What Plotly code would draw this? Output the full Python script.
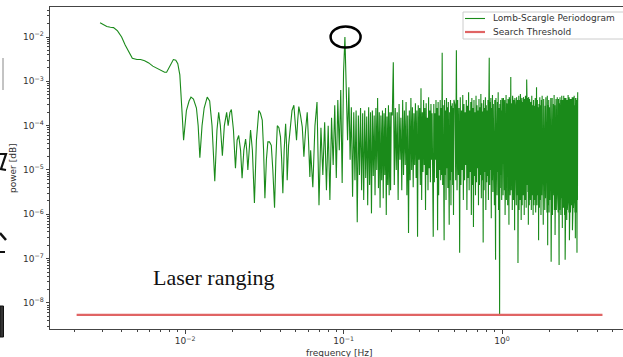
import plotly.graph_objects as go

# ---------------- data ----------------
# smooth low-frequency part of the Lomb-Scargle periodogram
freq_low = [
    0.00291, 0.00307, 0.00321, 0.00338, 0.00354, 0.00375, 0.00398, 0.00419, 0.00441, 0.00465,
    0.00497, 0.00524, 0.00556, 0.00590, 0.00626, 0.00664, 0.00704, 0.00743, 0.00765, 0.00800,
    0.00844, 0.00874, 0.00900, 0.00927, 0.00948, 0.00962, 0.00979, 0.0100, 0.0102, 0.0106,
    0.0109, 0.0113, 0.0118, 0.0121, 0.0124, 0.0128, 0.0132, 0.0138, 0.0143, 0.0148,
    0.0154, 0.0159, 0.0163, 0.0167, 0.0172, 0.0177, 0.0183, 0.0187, 0.0192, 0.0196,
    0.0202, 0.0208, 0.0213, 0.0218, 0.0224, 0.0229, 0.0235, 0.0241, 0.0245, 0.0249,
    0.0254, 0.0259, 0.0266, 0.0274, 0.0282, 0.0292, 0.0299, 0.0307, 0.0313, 0.0319,
    0.0326, 0.0333, 0.0341, 0.0350, 0.0358, 0.0367, 0.0374, 0.0382, 0.0391, 0.0400,
    0.0407, 0.0414, 0.0422, 0.0431, 0.0437, 0.0441, 0.0450, 0.0463, 0.0473, 0.0486,
    0.0496, 0.0505, 0.0514, 0.0522, 0.0535, 0.0549, 0.0555, 0.0562, 0.0576, 0.0590,
    0.0601, 0.0613,
]
power_low = [
    0.021, 0.019, 0.0173, 0.0166, 0.0163, 0.0137, 0.0100, 0.0066, 0.0046, 0.0033,
    0.0031, 0.0031, 0.0029, 0.0026, 0.0022, 0.0020, 0.0018, 0.0016, 0.0016, 0.0022,
    0.0031, 0.0030, 0.0025, 0.0014, 4.9e-4, 1.5e-4, 4.7e-5, 1.0e-4, 2.2e-4, 3.6e-4,
    4.4e-4, 4.0e-4, 2.5e-4, 1.0e-4, 1.9e-5, 1.0e-4, 2.5e-4, 4.4e-4, 3.6e-4, 1.0e-4,
    5.6e-6, 8e-5, 2.0e-4, 1.0e-4, 2.1e-5, 1.0e-4, 2.0e-4, 1.0e-4, 2.0e-4, 2.3e-4,
    8e-5, 1.1e-5, 4.7e-5, 6e-5, 2.8e-5, 6.5e-6, 2.8e-5, 5e-5, 2.8e-5, 1.0e-5,
    3.6e-5, 8e-5, 2.8e-5, 1.8e-6, 4.7e-5, 2.2e-4, 1.9e-4, 1.34e-4, 2.8e-5, 2.3e-6,
    1.7e-5, 4.3e-5, 4.3e-5, 3.6e-5, 1.0e-5, 1.4e-6, 1.7e-5, 1.0e-4, 9e-5, 5.6e-5,
    1.7e-5, 3.0e-6, 2.8e-5, 1.1e-4, 3.6e-5, 5.9e-6, 3.6e-5, 1.34e-4, 2.2e-4, 2.9e-4,
    1.34e-4, 4.7e-5, 1.34e-4, 2.7e-4, 1.7e-4, 9.4e-5, 4.7e-5, 2.0e-5, 8e-5, 2.0e-4,
    4.7e-5, 7.0e-6,
]

# 0.062 - 0.200 Hz (includes the 0.1 Hz peak)
freq_peak_band = [
    0.062, 0.064, 0.066, 0.068, 0.070, 0.072, 0.074, 0.076, 0.078, 0.080,
    0.082, 0.084, 0.086, 0.088, 0.090, 0.092, 0.094, 0.096, 0.098, 0.100,
    0.102, 0.104, 0.106, 0.108, 0.110, 0.112, 0.114, 0.116, 0.118, 0.120,
    0.122, 0.124, 0.126, 0.128, 0.130, 0.132, 0.134, 0.136, 0.138, 0.140,
    0.142, 0.144, 0.146, 0.148, 0.150, 0.152, 0.154, 0.156, 0.158, 0.160,
    0.162, 0.164, 0.166, 0.168, 0.170, 0.172, 0.174, 0.176, 0.178, 0.180,
    0.182, 0.184, 0.186, 0.188, 0.190, 0.192, 0.194, 0.196, 0.198, 0.200,
]
power_peak_band = [
    2.8e-5, 4.1e-6, 1.0e-4, 3.4e-4, 1.6e-6, 9e-5, 7.7e-6, 1.2e-4, 3.5e-6, 1.0e-4,
    2.1e-6, 1.5e-4, 1.3e-5, 2.9e-4, 6.6e-6, 3.8e-4, 2.8e-5, 6.4e-4, 5.1e-6, 1.6e-3,
    1.0e-2, 8.2e-4, 4.7e-5, 7.4e-4, 1.7e-5, 2.6e-4, 2.5e-6, 2.0e-4, 5.9e-6, 2.2e-4,
    6.6e-7, 1.7e-4, 7.7e-6, 2.5e-4, 3.5e-6, 1.9e-4, 2.1e-6, 2.2e-4, 6.6e-6, 1.6e-4,
    1.6e-6, 2.6e-4, 4.6e-6, 2.0e-4, 1.05e-6, 2.2e-4, 7.3e-6, 1.7e-4, 2.7e-6, 2.5e-4,
    1.0e-5, 4.2e-4, 3.9e-6, 2.0e-4, 1.4e-6, 1.7e-4, 5.9e-6, 2.2e-4, 2.3e-6, 1.9e-4,
    7.7e-6, 2.5e-4, 9.6e-7, 1.6e-4, 4.6e-6, 2.9e-4, 2.7e-6, 2.0e-4, 3.5e-6, 2.0e-4,
]

# 0.203 - 0.500 Hz
freq_mid_band = [
    0.203, 0.206, 0.209, 0.212, 0.215, 0.218, 0.221, 0.224, 0.227, 0.230,
    0.233, 0.236, 0.239, 0.242, 0.245, 0.248, 0.251, 0.254, 0.257, 0.260,
    0.263, 0.266, 0.269, 0.272, 0.275, 0.278, 0.281, 0.284, 0.287, 0.290,
    0.293, 0.296, 0.299, 0.302, 0.305, 0.308, 0.311, 0.314, 0.317, 0.320,
    0.323, 0.326, 0.329, 0.332, 0.335, 0.338, 0.341, 0.344, 0.347, 0.350,
    0.353, 0.356, 0.359, 0.362, 0.365, 0.368, 0.371, 0.374, 0.377, 0.380,
    0.383, 0.386, 0.389, 0.392, 0.395, 0.398, 0.401, 0.404, 0.407, 0.410,
    0.413, 0.416, 0.419, 0.422, 0.425, 0.428, 0.431, 0.434, 0.437, 0.440,
    0.443, 0.446, 0.449, 0.452, 0.455, 0.458, 0.461, 0.464, 0.467, 0.470,
    0.473, 0.476, 0.479, 0.482, 0.485, 0.488, 0.491, 0.494, 0.497, 0.500,
]
power_mid_band = [
    1.7e-4, 2.7e-3, 4.6e-6, 2.5e-4, 1.0e-5, 2.0e-4, 2.1e-6, 3.1e-4, 1.7e-5, 1.5e-4,
    3.5e-6, 3.8e-4, 7.7e-6, 2.2e-4, 1.3e-5, 3.4e-4, 2.7e-6, 1.7e-4, 3.8e-7, 2.2e-4,
    5.9e-6, 4.2e-4, 1.0e-5, 2.6e-4, 4.1e-6, 1.9e-4, 1.3e-5, 3.2e-4, 6.6e-6, 2.2e-4,
    3.1e-7, 2.9e-4, 1.7e-5, 2.5e-4, 4.6e-6, 7.0e-4, 2.1e-6, 2.0e-4, 9e-6, 3.8e-4,
    1.3e-5, 2.5e-4, 1.25e-6, 3.2e-4, 7.7e-6, 1.5e-4, 3.5e-6, 4.4e-4, 1.1e-5, 2.2e-4,
    5.3e-6, 3.1e-4, 1.7e-5, 1.9e-4, 2.7e-6, 3.1e-7, 3.1e-4, 5.3e-6, 1.9e-4, 1.7e-5,
    3.8e-4, 6.6e-6, 2.5e-4, 4.4e-7, 3.4e-4, 2.7e-6, 1.7e-4, 1.0e-5, 3.8e-4, 5.9e-6,
    2.5e-4, 7.7e-6, 4.4e-3, 4.6e-6, 2.9e-4, 1.1e-5, 2.6e-7, 3.8e-4, 7.7e-6, 2.2e-4,
    2.1e-6, 4.2e-4, 1.1e-5, 2.6e-4, 3.9e-6, 3.4e-4, 9e-6, 5.8e-7, 2.0e-4, 5.9e-6,
    3.8e-4, 1.6e-6, 2.8e-4, 9e-6, 3.2e-4, 4.6e-6, 2.5e-4, 9.6e-7, 3.8e-4, 3.2e-4,
]

# 0.505 - 1.000 Hz
freq_high_band = [
    0.505, 0.510, 0.515, 0.520, 0.525, 0.530, 0.535, 0.540, 0.545, 0.550,
    0.555, 0.560, 0.565, 0.570, 0.575, 0.580, 0.585, 0.590, 0.595, 0.600,
    0.605, 0.610, 0.615, 0.620, 0.625, 0.630, 0.635, 0.640, 0.645, 0.650,
    0.655, 0.660, 0.665, 0.670, 0.675, 0.680, 0.685, 0.690, 0.695, 0.700,
    0.705, 0.710, 0.715, 0.720, 0.725, 0.730, 0.735, 0.740, 0.745, 0.750,
    0.755, 0.760, 0.765, 0.770, 0.775, 0.780, 0.785, 0.790, 0.795, 0.800,
    0.805, 0.810, 0.815, 0.820, 0.825, 0.830, 0.835, 0.840, 0.845, 0.850,
    0.855, 0.860, 0.865, 0.870, 0.875, 0.880, 0.885, 0.890, 0.895, 0.900,
    0.905, 0.910, 0.915, 0.920, 0.925, 0.930, 0.935, 0.940, 0.945, 0.950,
    0.955, 0.960, 0.965, 0.970, 0.975, 0.980, 0.985, 0.990, 0.995, 1.000,
]
power_high_band = [
    2.9e-4, 5.9e-6, 5e-3, 3.5e-6, 3.8e-4, 7.7e-6, 2.5e-4, 1.35e-7, 4.4e-4, 4.6e-6,
    2.2e-4, 1.0e-5, 4.9e-4, 2.1e-6, 3.1e-4, 5.9e-6, 2.0e-4, 1.3e-5, 3.8e-4, 1.25e-6,
    2.8e-4, 6.6e-6, 5.7e-4, 3.5e-6, 2.2e-4, 9e-6, 3.4e-4, 9.6e-7, 4.2e-4, 4.6e-6,
    2.5e-4, 5.2e-7, 3.8e-4, 7.3e-6, 2.0e-4, 2.7e-6, 4.7e-4, 5.3e-6, 2.9e-4, 1.1e-5,
    2.2e-4, 1.6e-6, 4.0e-4, 4.6e-6, 2.6e-4, 7.7e-6, 5.2e-4, 2.3e-6, 3.2e-4, 5.9e-6,
    2.1e-4, 2.3e-7, 3.8e-4, 3.5e-6, 2.5e-4, 9e-6, 4.4e-4, 1.25e-6, 2.9e-4, 5.3e-6,
    2.2e-4, 7.3e-6, 3.8e-4, 2.1e-6, 2.8e-4, 3.4e-3, 4.6e-6, 3.4e-4, 1.0e-5, 4.2e-4,
    8.2e-7, 2.5e-4, 5.9e-6, 4.9e-4, 3.2e-6, 3.1e-4, 7.3e-6, 2.2e-4, 1.6e-6, 3.8e-4,
    5.1e-6, 9.4e-8, 4.2e-4, 6.6e-6, 2.8e-4, 2.7e-6, 3.4e-4, 9e-6, 5.7e-4, 1.25e-6,
    2.5e-4, 5.9e-6, 5.5e-9, 3.1e-4, 3.9e-6, 3.8e-4, 7.7e-6, 2.2e-4, 2.1e-6, 4.2e-4,
]

# 1.005 - 1.500 Hz
freq_top_band = [
    1.005, 1.010, 1.015, 1.020, 1.025, 1.030, 1.035, 1.040, 1.045, 1.050,
    1.055, 1.060, 1.065, 1.070, 1.075, 1.080, 1.085, 1.090, 1.095, 1.100,
    1.105, 1.110, 1.115, 1.120, 1.125, 1.130, 1.135, 1.140, 1.145, 1.150,
    1.155, 1.160, 1.165, 1.170, 1.175, 1.180, 1.185, 1.190, 1.195, 1.200,
    1.205, 1.210, 1.215, 1.220, 1.225, 1.230, 1.235, 1.240, 1.245, 1.250,
    1.255, 1.260, 1.265, 1.270, 1.275, 1.280, 1.285, 1.290, 1.295, 1.300,
    1.305, 1.310, 1.315, 1.320, 1.325, 1.330, 1.335, 1.340, 1.345, 1.350,
    1.355, 1.360, 1.365, 1.370, 1.375, 1.380, 1.385, 1.390, 1.395, 1.400,
    1.405, 1.410, 1.415, 1.420, 1.425, 1.430, 1.435, 1.440, 1.445, 1.450,
    1.455, 1.460, 1.465, 1.470, 1.475, 1.480, 1.485, 1.490, 1.495, 1.500,
]
power_top_band = [
    5.9e-6, 3.1e-4, 2.7e-6, 4.2e-4, 7.3e-6, 2.2e-4, 3.5e-6, 3.8e-4, 9.6e-7, 2.8e-4,
    4.6e-6, 4.9e-4, 2.1e-6, 3.2e-4, 6.6e-6, 2.5e-4, 1.6e-6, 4.0e-4, 4.1e-6, 2.9e-4,
    5.8e-7, 4.4e-4, 5.3e-6, 3.4e-4, 2.7e-6, 2.2e-4, 1.25e-3, 3.5e-6, 3.2e-4, 6.6e-6,
    2.5e-4, 1.25e-6, 4.7e-4, 4.6e-6, 3.1e-4, 2.1e-6, 3.8e-4, 5.9e-6, 2.6e-4, 4.4e-7,
    4.2e-4, 3.2e-6, 2.9e-4, 7.7e-6, 3.4e-4, 1.6e-6, 4.4e-4, 5.3e-6, 2.2e-4, 2.7e-6,
    3.8e-4, 8e-8, 3.1e-4, 3.9e-6, 4.7e-4, 1.25e-6, 2.6e-4, 5.9e-6, 3.8e-4, 2.1e-6,
    5.2e-4, 4.6e-6, 3.2e-4, 7.4e-7, 2.9e-4, 3.5e-6, 4.2e-4, 1.6e-6, 3.4e-4, 5.3e-6,
    2.5e-4, 2.7e-6, 4.4e-4, 6.6e-6, 3.1e-4, 9.6e-7, 4.0e-4, 3.9e-6, 2.8e-4, 2.1e-6,
    4.7e-4, 5.9e-6, 3.2e-4, 1.4e-6, 3.8e-4, 1.1e-3, 2.7e-6, 2.6e-4, 4.6e-6, 4.2e-4,
    3.2e-6, 2.9e-4, 5.8e-7, 4.4e-4, 5.3e-6, 3.4e-4, 1.6e-6, 4.0e-4, 3.5e-6, 2.8e-4,
]

# 1.51 - 3.00 Hz
freq_end_band = [
    1.51, 1.52, 1.53, 1.54, 1.55, 1.56, 1.57, 1.58, 1.59, 1.60,
    1.61, 1.62, 1.63, 1.64, 1.65, 1.66, 1.67, 1.68, 1.69, 1.70,
    1.71, 1.72, 1.73, 1.74, 1.75, 1.76, 1.77, 1.78, 1.79, 1.80,
    1.81, 1.82, 1.83, 1.84, 1.85, 1.86, 1.87, 1.88, 1.89, 1.90,
    1.91, 1.92, 1.93, 1.94, 1.95, 1.96, 1.97, 1.98, 1.99, 2.00,
    2.01, 2.02, 2.03, 2.04, 2.05, 2.06, 2.07, 2.08, 2.09, 2.10,
    2.11, 2.12, 2.13, 2.14, 2.15, 2.16, 2.17, 2.18, 2.19, 2.20,
    2.21, 2.22, 2.23, 2.24, 2.25, 2.26, 2.27, 2.28, 2.29, 2.30,
    2.31, 2.32, 2.33, 2.34, 2.35, 2.36, 2.37, 2.38, 2.39, 2.40,
    2.41, 2.42, 2.43, 2.44, 2.45, 2.46, 2.47, 2.48, 2.49, 2.50,
    2.51, 2.52, 2.53, 2.54, 2.55, 2.56, 2.57, 2.58, 2.59, 2.60,
    2.61, 2.62, 2.63, 2.64, 2.65, 2.66, 2.67, 2.68, 2.69, 2.70,
    2.71, 2.72, 2.73, 2.74, 2.75, 2.76, 2.77, 2.78, 2.79, 2.80,
    2.81, 2.82, 2.83, 2.84, 2.85, 2.86, 2.87, 2.88, 2.89, 2.90,
    2.91, 2.92, 2.93, 2.94, 2.95, 2.96, 2.97, 2.98, 2.99, 3.00,
]
power_end_band = [
    2.1e-6, 3.4e-4, 1.25e-6, 4.7e-4, 2.7e-6, 2.9e-4, 9.6e-7, 3.8e-4, 1.6e-6, 2.8e-4,
    2.1e-6, 4.2e-4, 1.1e-6, 3.2e-4, 7.4e-4, 1.6e-6, 3.8e-4, 2.7e-6, 2.6e-4, 2.6e-7,
    3.1e-4, 1.4e-6, 4.4e-4, 2.1e-6, 2.9e-4, 9.6e-7, 3.8e-4, 2.7e-6, 4.7e-4, 1.25e-6,
    2.5e-4, 5.8e-7, 4.0e-4, 1.6e-6, 3.2e-4, 1.25e-6, 2.8e-4, 2.3e-6, 4.4e-4, 3.5e-6,
    3.4e-4, 1.1e-6, 4.7e-4, 2.0e-7, 2.9e-4, 1.6e-6, 3.8e-4, 1.1e-6, 2.6e-4, 2.1e-6,
    3.8e-4, 2.3e-6, 4.2e-4, 8.5e-8, 3.1e-4, 1.4e-6, 4.2e-4, 9.6e-7, 2.8e-4, 1.6e-6,
    3.1e-4, 2.7e-6, 4.9e-4, 1.25e-6, 2.9e-4, 3.4e-7, 3.4e-4, 1.6e-6, 4.0e-4, 1.25e-6,
    2.6e-4, 2.1e-6, 4.4e-4, 2.7e-6, 3.2e-4, 1.1e-6, 4.0e-4, 1.6e-6, 7.2e-8, 3.2e-4,
    1.25e-6, 4.4e-4, 2.1e-6, 2.9e-4, 9.6e-7, 3.8e-4, 2.3e-6, 4.7e-4, 1.4e-6, 4.9e-7,
    3.8e-4, 1.6e-6, 2.8e-4, 1.4e-6, 4.7e-4, 2.1e-6, 3.4e-4, 9.6e-7, 4.2e-4, 9.4e-8,
    3.1e-4, 1.6e-6, 4.2e-4, 2.7e-6, 2.9e-4, 7.4e-7, 3.8e-4, 1.25e-6, 2.8e-4, 2.1e-6,
    4.9e-4, 2.3e-6, 3.2e-4, 1.1e-6, 4.4e-4, 2.6e-7, 3.4e-4, 1.6e-6, 4.0e-4, 1.1e-6,
    2.9e-4, 2.7e-6, 4.0e-4, 1.6e-6, 2.6e-4, 2.1e-6, 4.4e-4, 4.4e-7, 3.8e-4, 1.25e-6,
    4.4e-4, 1.4e-6, 3.2e-4, 2.3e-6, 4.7e-4, 2.7e-6, 3.8e-4, 1.1e-6, 2.9e-4, 2.9e-7,
    4.2e-4, 1.1e-6, 2.9e-4, 1.6e-6, 3.8e-4, 1.25e-6, 1.35e-7, 4.2e-4, 2.1e-6, 5.7e-4,
]

threshold_freq = [0.00207, 4.3]
threshold_power = [5.4e-9, 5.4e-9]

peak_freq = 0.102
peak_power = 1.0e-2

x_tick_vals = [1e-2, 1e-1, 1e0]
x_tick_text = ["10<sup>−2</sup>", "10<sup>−1</sup>", "10<sup>0</sup>"]
y_tick_vals = [1e-8, 1e-7, 1e-6, 1e-5, 1e-4, 1e-3, 1e-2]
y_tick_text = ["10<sup>−8</sup>", "10<sup>−7</sup>", "10<sup>−6</sup>", "10<sup>−5</sup>",
               "10<sup>−4</sup>", "10<sup>−3</sup>", "10<sup>−2</sup>"]

legend_names = ["Lomb-Scargle Periodogram", "Search Threshold"]

# ---------------- assemble ----------------
segments = [
    (freq_low, power_low), (freq_peak_band, power_peak_band), (freq_mid_band, power_mid_band),
    (freq_high_band, power_high_band), (freq_top_band, power_top_band), (freq_end_band, power_end_band),
]
freq_hz, power = [], []
for f_seg, p_seg in segments:
    assert len(f_seg) == len(p_seg), (len(f_seg), len(p_seg))
    freq_hz += f_seg
    power += p_seg

minor_x = [k * 10.0 ** e for e in range(-3, 1) for k in range(2, 10)]
minor_y = [k * 10.0 ** e for e in range(-9, -1) for k in range(2, 10)]

FONT = "DejaVu Sans"
AX = "#444444"
TXT = "#333333"
GREEN = "#1a8a1a"
RED = "#e06464"

fig = go.Figure()
fig.add_trace(go.Scatter(
    x=freq_hz, y=power, mode="lines", name=legend_names[0],
    line=dict(color=GREEN, width=1.1),
))
fig.add_trace(go.Scatter(
    x=threshold_freq, y=threshold_power, mode="lines", name=legend_names[1],
    line=dict(color=RED, width=2.2),
))

W, H = 623, 357
ML, MR, MT, MB = 50, 0, 7, 28
PW, PH = W - ML - MR, H - MT - MB
X_DEC_PX = 158.5   # pixels per decade on x
Y_DEC_PX = 44.3    # pixels per decade on y


def px(x):
    return (x - ML) / PW


def py(y):
    return (H - MB - y) / PH


axis_common = dict(
    type="log", showline=True, linecolor=AX, linewidth=1, ticks="outside", ticklen=3.5,
    tickcolor=AX, tickwidth=1, showgrid=False, zeroline=False,
    tickfont=dict(family=FONT, size=9, color=TXT),
)

# hand-drawn circle around the 0.1 Hz peak (about 30 x 21 px)
cx_f = 10 ** (15 / X_DEC_PX)
cy_f = 10 ** (10.5 / Y_DEC_PX)

shapes = [
    dict(type="circle", xref="x", yref="y",
         x0=peak_freq / cx_f * 1.01, x1=peak_freq * cx_f * 1.01,
         y0=peak_power / cy_f, y1=peak_power * cy_f,
         line=dict(color="black", width=2.5)),
    # legend box (matplotlib style)
    dict(type="rect", xref="paper", yref="paper", x0=px(463), x1=px(640), y0=py(39), y1=py(12),
         fillcolor="white", line=dict(color="#cccccc", width=1)),
    dict(type="line", xref="paper", yref="paper", x0=px(465), x1=px(485), y0=py(18.5), y1=py(18.5),
         line=dict(color=GREEN, width=1.1)),
    dict(type="line", xref="paper", yref="paper", x0=px(465), x1=px(485), y0=py(32), y1=py(32),
         line=dict(color=RED, width=2.2)),
    # screenshot edge artefacts on the left margin
    dict(type="line", xref="paper", yref="paper", x0=px(3), x1=px(3), y0=py(58), y1=py(90),
         line=dict(color="#888888", width=1)),
    dict(type="path", xref="paper", yref="paper",
         path=f"M {px(0)},{py(154)} L {px(6)},{py(154)} L {px(1)},{py(169)} L {px(6)},{py(170)}",
         line=dict(color="#111111", width=2.2)),
    dict(type="line", xref="paper", yref="paper", x0=px(0), x1=px(6), y0=py(233), y1=py(240),
         line=dict(color="#111111", width=2.5)),
    dict(type="line", xref="paper", yref="paper", x0=px(0), x1=px(5), y0=py(252), y1=py(252),
         line=dict(color="#111111", width=2)),
    dict(type="rect", xref="paper", yref="paper", x0=px(0), x1=px(3.5), y0=py(337), y1=py(306),
         fillcolor="#333333", line=dict(color="#111111", width=1)),
]

annotations = [
    dict(text="frequency [Hz]", xref="paper", yref="paper", x=px(339), y=py(353),
         xanchor="center", yanchor="middle", showarrow=False,
         font=dict(family=FONT, size=9, color=TXT)),
    dict(text="power [dB]", xref="paper", yref="paper", x=px(13), y=py(168),
         xanchor="center", yanchor="middle", showarrow=False, textangle=-90,
         font=dict(family=FONT, size=9, color=TXT)),
    dict(text="Laser ranging", xref="paper", yref="paper", x=px(151), y=py(277),
         xanchor="left", yanchor="middle", showarrow=False,
         font=dict(family="Liberation Serif", size=22, color="#111111")),
    dict(text=legend_names[0], xref="paper", yref="paper", x=px(491), y=py(18.5),
         xanchor="left", yanchor="middle", showarrow=False,
         font=dict(family=FONT, size=9, color=TXT)),
    dict(text=legend_names[1], xref="paper", yref="paper", x=px(491), y=py(32),
         xanchor="left", yanchor="middle", showarrow=False,
         font=dict(family=FONT, size=9, color=TXT)),
]

fig.update_layout(
    width=W, height=H,
    margin=dict(l=ML, r=MR, t=MT, b=MB, pad=0),
    paper_bgcolor="white", plot_bgcolor="white",
    font=dict(family=FONT, size=9, color=TXT),
    xaxis=dict(range=[-2.852, 0.763], tickvals=x_tick_vals, ticktext=x_tick_text, mirror=True,
               minor=dict(tickvals=minor_x, ticks="outside", ticklen=2, tickcolor=AX, showgrid=False),
               **axis_common),
    yaxis=dict(range=[-8.587, -1.323], tickvals=y_tick_vals, ticktext=y_tick_text, mirror=False,
               minor=dict(tickvals=minor_y, ticks="outside", ticklen=2, tickcolor=AX, showgrid=False),
               **axis_common),
    showlegend=False,
    shapes=shapes,
    annotations=annotations,
)

fig.write_html("out.html")
